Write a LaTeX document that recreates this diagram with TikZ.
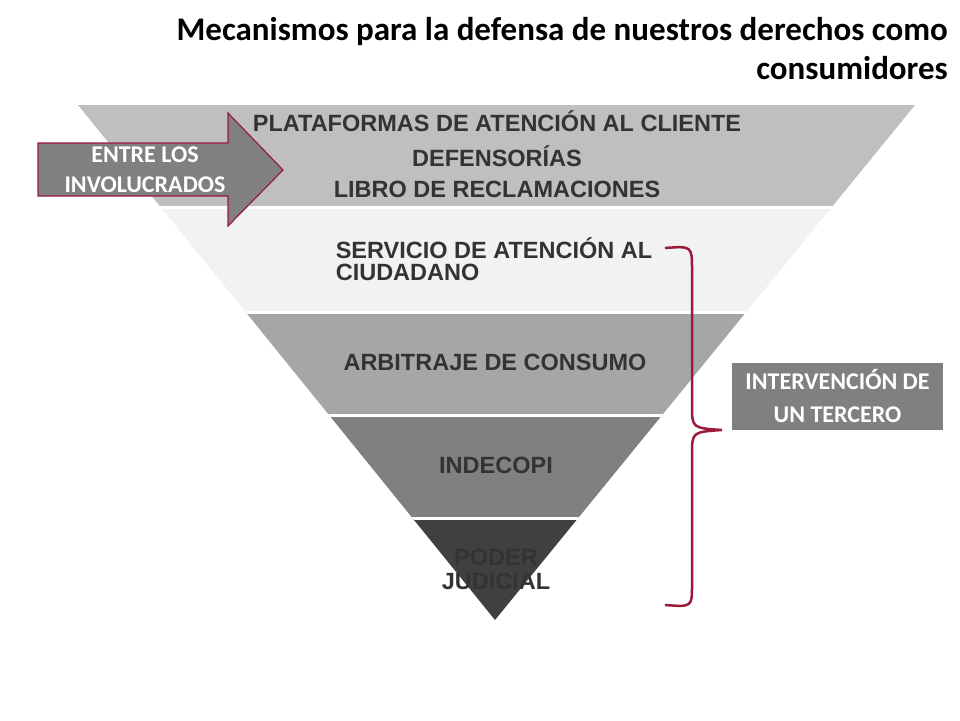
\documentclass[tikz,border=0pt]{standalone}
\usepackage{fontspec}
\setmainfont{Liberation Sans}
\newfontfamily\calibri{Carlito}
\usetikzlibrary{positioning}
\definecolor{bandA}{HTML}{BFBFBF}
\definecolor{bandB}{HTML}{F2F2F2}
\definecolor{bandC}{HTML}{A6A6A6}
\definecolor{bandD}{HTML}{808080}
\definecolor{bandE}{HTML}{404040}
\definecolor{labelgray}{HTML}{333333}
\definecolor{maroon}{HTML}{9B1B3A}
\tikzset{
  bandtext/.style={text=labelgray,font=\bfseries\fontsize{23.5}{22}\selectfont,align=center,inner sep=0pt},
  sidebox/.style={fill=bandD,text=white,font=\calibri\bfseries\fontsize{24}{33}\selectfont,align=center,minimum width=211pt,minimum height=67pt,inner sep=0pt}
}
\begin{document}
\begin{tikzpicture}[x=1pt,y=-1pt]
\useasboundingbox (0,0) rectangle (960,720);
% title
\node[anchor=north east,align=right,font=\calibri\bfseries\fontsize{33}{39}\selectfont,inner sep=0pt] (title) at (948,17)
  {Mecanismos para la defensa de nuestros derechos como\\consumidores};
% inverted pyramid
\begin{scope}
\clip (78,105) -- (915,105) -- (495,620) -- cycle;
\fill[bandA] (0,105) rectangle (960,207);
\fill[bandB] (0,207) rectangle (960,312);
\fill[bandC] (0,312) rectangle (960,415);
\fill[bandD] (0,415) rectangle (960,518);
\fill[bandE] (0,518) rectangle (960,620);
\foreach \y in {207,312,415,518}
  \draw[white,line width=3pt] (0,\y) -- (960,\y);
\end{scope}
\node[bandtext] (plataformas) at (497,121) {PLATAFORMAS DE ATENCIÓN AL CLIENTE};
\node[bandtext] (defensorias) at (497,156) {DEFENSORÍAS};
\node[bandtext] (libro) at (497,189) {LIBRO DE RECLAMACIONES};
\node[bandtext,align=left] (servicio) at (494,259) {SERVICIO DE ATENCIÓN AL\\CIUDADANO};
\node[bandtext] (arbitraje) at (495,362) {ARBITRAJE DE CONSUMO};
\node[bandtext] (indecopi) at (496,465) {INDECOPI};
\node[bandtext,font=\bfseries\fontsize{23.5}{24}\selectfont] (poder) at (496,569) {PODER\\JUDICIAL};
% arrow
\draw[fill=bandD,draw=maroon,line width=1.2pt] (38,143) -- (228,143) -- (228,113) -- (283,170)
  -- (228,226) -- (228,196) -- (38,196) -- cycle;
\node[text=white,font=\calibri\bfseries\fontsize{24}{30}\selectfont,align=center,inner sep=0pt] (entre) at (145,170) {ENTRE LOS\\INVOLUCRADOS};
% brace
\coordinate (bracetop) at (665,248);
\coordinate (bracebot) at (665,605);
\coordinate (bracetip) at (722,430);
\draw[maroon,line width=2.5pt] (bracetop) .. controls (692,246) .. (692,270) -- (692,405)
  .. controls (692,428) .. (bracetip) .. controls (692,432) .. (692,455) -- (692,585)
  .. controls (692,607) .. (bracebot);
\node[sidebox] (tercero) at (837.5,396.5) {INTERVENCIÓN DE\\UN TERCERO};
\end{tikzpicture}
\end{document}
